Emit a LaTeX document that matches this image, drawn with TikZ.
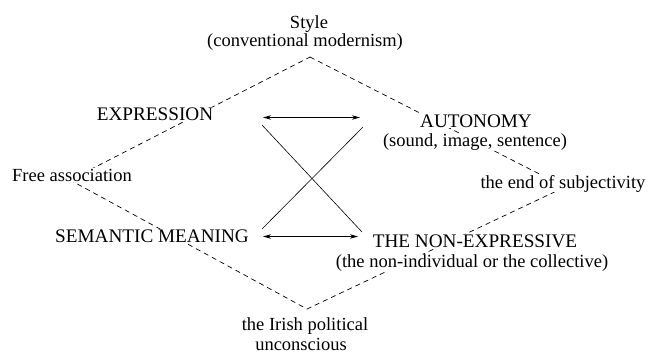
\documentclass[tikz,border=0pt]{standalone}
\usepackage{fontspec}
\setmainfont{Liberation Serif}
\usetikzlibrary{arrows.meta}
\begin{document}
\begin{tikzpicture}[x=1pt,y=-1pt,
  lbl/.style={font=\fontsize{18.5}{20}\selectfont, fill=white, inner sep=0.5pt, anchor=base},
  caps/.style={lbl, font=\fontsize{19.2}{20}\selectfont},
  dia/.style={dash pattern=on 5pt off 4pt, line width=0.7pt},
  link/.style={line width=0.6pt},
  dbl/.style={line width=0.8pt, {Stealth[length=8pt,width=4.5pt]}-{Stealth[length=8pt,width=4.5pt]}}]
\useasboundingbox (0,0) rectangle (651,354);
% diamond corners
\coordinate (T) at (310,57);
\coordinate (R) at (565,187);
\coordinate (B) at (307,309);
\coordinate (L) at (70,180);
\draw[dia] (T) -- (R) -- (B) -- (L) -- cycle;
% labels
\node[lbl] (style) at (309,28) {Style};
\node[lbl] (conv) at (305,46) {(conventional modernism)};
\node[caps] (expr) at (155,120) {EXPRESSION};
\node[caps] (auto) at (476,127) {AUTONOMY};
\node[lbl] (sound) at (475,146) {(sound, image, sentence)};
\node[lbl] (free) at (72,181) {Free association};
\node[lbl] (end) at (563,188) {the end of subjectivity};
\node[caps] (sem) at (152,242) {SEMANTIC MEANING};
\node[caps] (non) at (475,247) {THE NON-EXPRESSIVE};
\node[lbl] (coll) at (472,267) {(the non-individual or the collective)};
\node[lbl] (irish) at (305,330) {the Irish political};
\node[lbl] (unc) at (301,350) {unconscious};
% connector ends
\coordinate (e1) at (263,117.5);
\coordinate (a1) at (360,117.5);
\coordinate (s1) at (263,236.5);
\coordinate (n1) at (358,236.5);
\coordinate (e2) at (262,125);
\coordinate (n2) at (362,232);
\coordinate (a2) at (363,127);
\coordinate (s2) at (262,229);
\draw[dbl] (e1) -- (a1);
\draw[dbl] (s1) -- (n1);
\draw[link] (e2) -- (n2);
\draw[link] (a2) -- (s2);
\end{tikzpicture}
\end{document}
